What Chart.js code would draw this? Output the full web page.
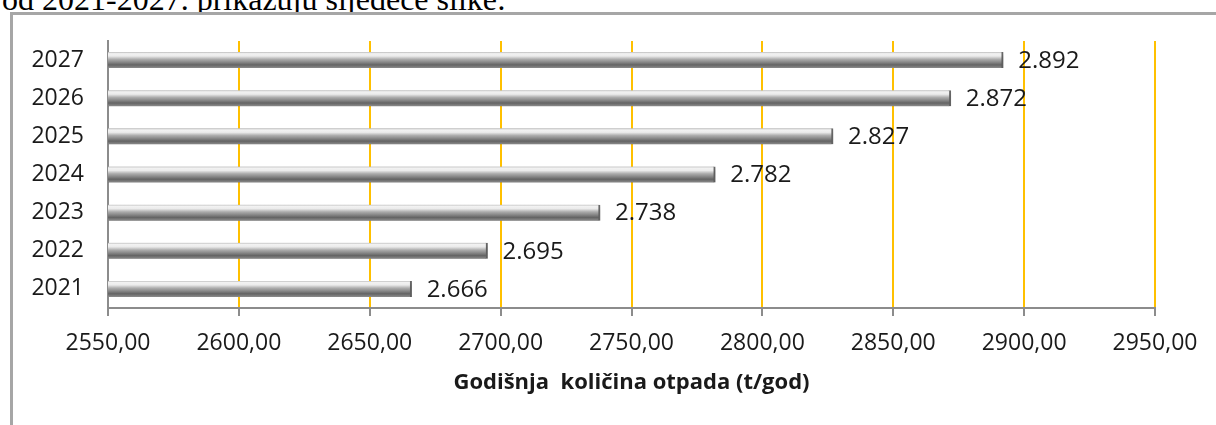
<!DOCTYPE html>
<html>
<head>
<meta charset="utf-8">
<script src="https://cdn.jsdelivr.net/npm/chart.js@4"></script>
<style>
  html, body { margin: 0; padding: 0; background: #fff; overflow: hidden; }
  #page { position: relative; width: 1216px; height: 425px; }
  #lead {
    position: absolute; left: 2px; top: -17px; white-space: nowrap;
    font-family: "Liberation Serif", "DejaVu Serif", serif; font-size: 32px; line-height: 32px; color: #000;
  }
  #frame {
    position: absolute; left: 10px; top: 12px; width: 1220px; height: 430px;
    border-top: 3px solid #a6a6a6; border-left: 3px solid #a6a6a6; background: #fff;
  }
  #chart { position: absolute; left: 0; top: 0; }
</style>
</head>
<body>
<div id="page">
  <div id="lead">od 2021-2027. prikazuju sljedeće slike:</div>
  <div id="frame"></div>
  <canvas id="chart" width="1216" height="425"></canvas>
</div>
<script>
// --- DONNÉES ---
const years = ['2021', '2022', '2023', '2024', '2025', '2026', '2027'];
const otpad = [2666, 2695, 2738, 2782, 2827, 2872, 2892];
const xMin = 2550;
const xMax = 2950;
const xStep = 50;
const axisTitle = 'Godišnja  količina otpada (t/god)';

const FONT = '"Open Sans", "DejaVu Sans", sans-serif';

// 2892 -> "2.892"
function fmtThousands(v) {
    return String(v).replace(/\B(?=(\d{3})+(?!\d))/g, '.');
}

// Dégradé "cylindre" gris pour chaque barre
function barGradient(ctx) {
    const chart = ctx.chart;
    const yScale = chart.scales.y;
    if (!yScale || ctx.dataIndex === undefined) return '#999';
    const yc = yScale.getPixelForValue(ctx.dataIndex);
    if (!isFinite(yc)) return '#999';
    const h = 8;
    const g = chart.ctx.createLinearGradient(0, yc - h, 0, yc + h);
    g.addColorStop(0.00, '#bdbdbd');
    g.addColorStop(0.10, '#f2f2f2');
    g.addColorStop(0.25, '#ebebeb');
    g.addColorStop(0.45, '#acacac');
    g.addColorStop(0.62, '#8a8a8a');
    g.addColorStop(0.80, '#646464');
    g.addColorStop(1.00, '#8c8c8c');
    return g;
}

// Étiquettes de valeurs à droite des barres
const valueLabels = {
    id: 'valueLabels',
    afterDatasetsDraw(chart) {
        const ctx = chart.ctx;
        const meta = chart.getDatasetMeta(0);
        ctx.save();
        ctx.font = '24px ' + FONT;
        ctx.fillStyle = '#1a1a1a';
        ctx.textAlign = 'left';
        ctx.textBaseline = 'middle';
        meta.data.forEach((bar, i) => {
            ctx.fillText(fmtThousands(otpad[i]), bar.x + 15, bar.y + 1);
        });
        ctx.restore();
    }
};

// Ombre légère sous les barres
const barShadow = {
    id: 'barShadow',
    beforeDatasetsDraw(chart) {
        const ctx = chart.ctx;
        ctx.save();
        ctx.shadowColor = 'rgba(0,0,0,0.28)';
        ctx.shadowBlur = 4;
        ctx.shadowOffsetY = 3;
    },
    afterDatasetsDraw(chart) {
        chart.ctx.restore();
    }
};

const chart = new Chart(document.getElementById('chart').getContext('2d'), {
    type: 'bar',
    data: {
        labels: years,
        datasets: [{
            data: otpad,
            backgroundColor: barGradient,
            borderColor: '#6a6a6a',
            borderWidth: { top: 0, bottom: 0, left: 0, right: 2 },
            borderSkipped: 'left',
            barThickness: 16
        }]
    },
    options: {
        indexAxis: 'y',
        responsive: false,
        animation: false,
        layout: { padding: { left: 0, right: 61, top: 41, bottom: 0 } },
        plugins: { legend: { display: false }, tooltip: { enabled: false } },
        scales: {
            x: {
                type: 'linear',
                min: xMin, max: xMax,
                ticks: {
                    stepSize: xStep,
                    color: '#1a1a1a',
                    font: { family: FONT, size: 23 },
                    padding: 14,
                    maxRotation: 0,
                    callback: v => v.toFixed(2).replace('.', ',')
                },
                grid: {
                    color: c => (c.index === 0 ? 'rgba(0,0,0,0)' : '#FFC000'),
                    lineWidth: 2,
                    tickColor: '#8c8c8c',
                    tickLength: 8
                },
                border: { display: true, color: '#8c8c8c', width: 2 },
                title: {
                    display: true,
                    text: axisTitle,
                    color: '#1a1a1a',
                    font: { family: FONT, size: 22, weight: 'bold' },
                    padding: { top: 0, bottom: 29 }
                },
                afterFit: s => { s.height = 117; }
            },
            y: {
                reverse: true,
                ticks: {
                    color: '#1a1a1a',
                    font: { family: FONT, size: 23 },
                    padding: 24
                },
                grid: { display: false, drawTicks: false },
                border: { display: true, color: '#8c8c8c', width: 2 },
                afterFit: s => { s.width = 108; }
            }
        }
    },
    plugins: [barShadow, valueLabels]
});
</script>
</body>
</html>
